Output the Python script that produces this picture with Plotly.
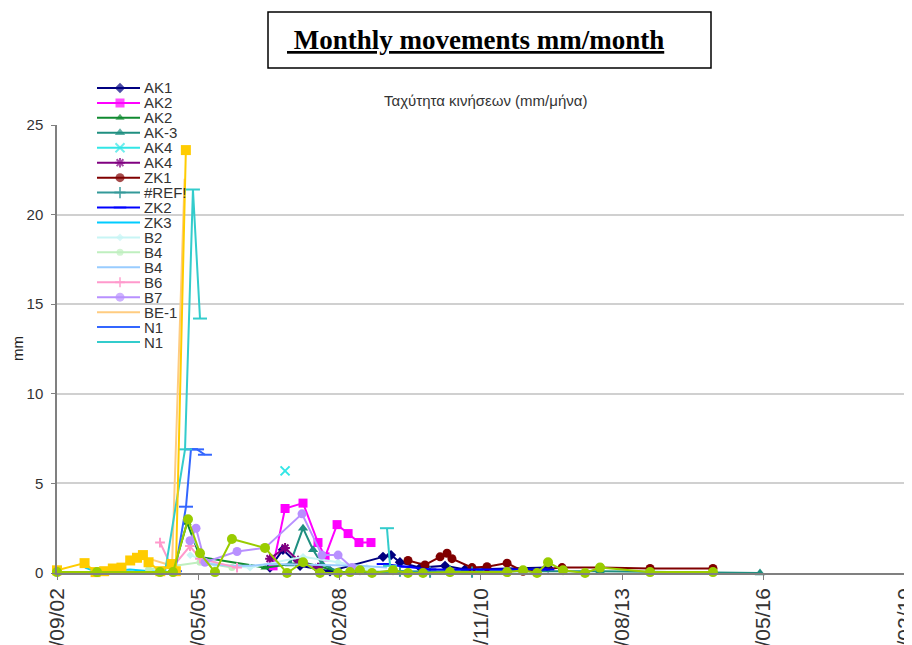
import plotly.graph_objects as go

# ---------------- data ----------------
X_RANGE = ['2002-09-01', '2019-02-05']
X_TICKS = ['2002-09-01', '2005-05-28', '2008-02-22', '2010-11-18',
           '2013-08-14', '2016-05-10', '2019-02-04']
Y_TICKS = [0, 5, 10, 15, 20, 25]

ak1_d = ['2006-10-17', '2007-01-17', '2007-05-18', '2007-12-16', '2008-12-25', '2009-02-20',
         '2009-04-24', '2009-09-14', '2010-03-09', '2010-07-28', '2012-03-07']
ak1_v = [0.3, 1.3, 0.4, 0.1, 0.9, 1.0, 0.6, 0.3, 0.4, 0.2, 0.3]

ak2_d = ['2006-11-08', '2007-02-01', '2007-06-08', '2007-09-22', '2007-11-11', '2008-02-04',
         '2008-04-22', '2008-07-08', '2008-10-01']
ak2_v = [0.4, 3.6, 3.9, 1.7, 0.9, 2.7, 2.2, 1.7, 1.7]

ak2b_d = ['2004-12-01', '2005-03-10', '2005-06-09', '2006-09-12', '2007-06-08', '2008-02-11']
ak2b_v = [0.1, 2.8, 0.9, 0.3, 0.6, 0.1]

ak3_d = ['2007-03-08', '2007-06-08', '2007-08-18', '2007-10-20', '2008-02-23', '2010-11-12',
         '2013-03-10', '2016-04-15']
ak3_v = [0.5, 2.5, 1.3, 0.5, 0.05, 0.1, 0.1, 0.0]

ak4_d = ['2007-02-01']
ak4_v = [5.7]

ak4b_d = ['2006-10-17', '2007-02-01', '2007-05-04', '2007-09-22']
ak4b_v = [0.8, 1.4, 0.7, 0.3]

zk1_d = ['2009-06-20', '2009-10-18', '2010-02-02', '2010-03-23', '2010-04-27', '2010-09-16',
         '2010-12-31', '2011-05-22', '2011-09-12', '2012-06-14', '2013-03-10', '2014-02-27',
         '2015-05-18']
zk1_v = [0.7, 0.45, 0.9, 1.1, 0.8, 0.3, 0.35, 0.55, 0.1, 0.3, 0.3, 0.25, 0.25]

ref_d = ['2009-04-24', '2009-11-23', '2010-04-13', '2010-09-16']
ref_v = [0.1, 0.05, 0.1, 0.05]

zk2_d = ['2008-12-25', '2009-06-13', '2009-11-23', '2012-03-07']
zk2_v = [0.5, 0.35, 0.2, 0.2]

zk3_d = ['2003-03-18', '2003-05-28', '2003-09-11', '2004-01-31', '2004-06-20', '2004-11-09']
zk3_v = [0.3, 0.1, 0.1, 0.2, 0.1, 0.05]

b2_d = ['2005-04-01', '2005-09-23', '2006-05-29', '2007-06-08', '2008-02-11', '2008-09-01']
b2_v = [1.0, 0.5, 0.3, 0.9, 0.6, 0.3]

b4_d = ['2004-06-10', '2004-12-01', '2005-06-09', '2006-01-21']
b4_v = [0.2, 0.4, 0.6, 0.3]

b4b_d = ['2005-04-15', '2005-07-29', '2006-01-07', '2006-05-29', '2006-10-17', '2008-07-15',
         '2009-01-22']
b4b_v = [2.0, 0.5, 0.4, 0.4, 0.5, 0.4, 0.3]

b6_d = ['2004-08-30', '2004-11-23', '2005-03-30', '2005-06-09', '2006-02-26']
b6_v = [1.7, 0.3, 1.5, 0.8, 0.3]

b7_d = ['2005-03-30', '2005-05-12', '2005-07-14', '2006-02-26', '2006-09-12', '2007-06-01',
        '2007-10-20', '2008-02-11', '2008-05-20']
b7_v = [1.8, 2.5, 0.6, 1.2, 1.4, 3.3, 1.0, 1.0, 0.3]

be1_d = ['2004-06-10', '2004-11-23', '2005-02-20']
be1_v = [0.8, 0.4, 22.0]

n1_d = ['2004-12-14', '2005-03-02', '2005-04-06', '2005-05-19', '2005-07-14']
n1_v = [0.1, 3.7, 6.9, 6.9, 6.6]

n1b_d = ['2004-10-04', '2005-02-23', '2005-04-20', '2005-06-09', '2007-01-01',
         '2009-01-22', '2009-02-13']
n1b_v = [0.05, 6.9, 21.4, 14.2, None, 2.5, 0.4]

gold_d = ['2002-09-01', '2003-03-15', '2003-06-01', '2003-08-01', '2003-10-01', '2003-12-01',
          '2004-02-01', '2004-03-20', '2004-05-01', '2004-06-10', '2004-09-01', '2004-11-20',
          '2004-12-20', '2005-03-01']
gold_v = [0.15, 0.55, 0.05, 0.1, 0.25, 0.3, 0.7, 0.85, 1.0, 0.6, 0.1, 0.5, 0.1, 23.6]

lime_d = ['2002-09-01', '2003-06-11', '2004-08-30', '2004-11-30', '2005-03-16', '2005-06-09',
          '2005-09-23', '2006-01-21', '2006-09-12', '2007-02-15', '2007-06-08', '2007-10-06',
          '2008-02-11', '2008-05-06', '2008-07-15', '2008-10-08', '2009-03-06', '2009-06-20',
          '2009-10-04', '2010-04-13', '2011-05-22', '2011-09-12', '2011-12-20', '2012-03-07',
          '2012-06-21', '2012-11-24', '2013-03-10', '2014-02-27', '2015-05-18']
lime_v = [0.05, 0.05, 0.05, 0.05, 3.0, 1.1, 0.05, 1.9, 1.4, 0.0, 0.6, 0.0, 0.0, 0.05, 0.15,
          0.0, 0.15, 0.0, 0.0, 0.05, 0.05, 0.15, 0.0, 0.6, 0.15, 0.0, 0.3, 0.05, 0.05]

legend_names = ['AK1', 'AK2', 'AK2', 'AK-3', 'AK4', 'AK4', 'ZK1', '#REF!', 'ZK2', 'ZK3',
                'B2', 'B4', 'B4', 'B6', 'B7', 'BE-1', 'N1', 'N1']

# ---------------- styles ----------------
legend_series = [
    (ak1_d, ak1_v, '#000080', 'diamond', 8),
    (ak2_d, ak2_v, '#FF00FF', 'square', 9),
    (ak2b_d, ak2b_v, '#108a30', 'triangle-up', 8),
    (ak3_d, ak3_v, '#1f8f80', 'triangle-up', 9),
    (ak4_d, ak4_v, '#33E6E6', 'x-thin-open', 9),
    (ak4b_d, ak4b_v, '#800080', 'asterisk-open', 8),
    (zk1_d, zk1_v, '#800000', 'circle', 9),
    (ref_d, ref_v, '#339999', 'cross-thin-open', 8),
    (zk2_d, zk2_v, '#0000FF', 'line-ew-open', 9),
    (zk3_d, zk3_v, '#00CCFF', None, 0),
    (b2_d, b2_v, '#C8F5F5', 'diamond', 6),
    (b4_d, b4_v, '#BFEFBF', 'circle', 7),
    (b4b_d, b4b_v, '#99CCFF', None, 0),
    (b6_d, b6_v, '#FF99CC', 'cross-thin-open', 7),
    (b7_d, b7_v, '#B890FF', 'circle', 9),
    (be1_d, be1_v, '#FFCC80', None, 0),
    (n1_d, n1_v, '#3366FF', 'line-ew-open', 10),
    (n1b_d, n1b_v, '#33CCCC', 'line-ew-open', 10),
]

fig = go.Figure()


def add_series(d, v, color, symbol, size, lw=2):
    if symbol is None:
        fig.add_trace(go.Scatter(x=d, y=v, mode='lines', line=dict(color=color, width=lw),
                                 cliponaxis=False, hoverinfo='skip'))
    else:
        openm = symbol.endswith('open')
        fig.add_trace(go.Scatter(
            x=d, y=v, mode='lines+markers', line=dict(color=color, width=lw),
            marker=dict(symbol=symbol, size=size, color=color,
                        line=dict(color=color, width=2 if openm else 0)),
            cliponaxis=False, hoverinfo='skip'))


for d, v, c, s, z in legend_series:
    add_series(d, v, c, s, z)

# unlabeled series (beyond legend)
add_series(gold_d, gold_v, '#FFCC00', 'square', 10)
add_series(lime_d, lime_v, '#99CC00', 'circle', 10)

# ---------------- page geometry (window px -> paper) ----------------
PW, PH = 848, 565


def px(wx):
    return (wx - 57) / PW


def py(wy):
    return (573 - wy) / PH


# ---------------- legend (drawn on helper axes) ----------------
annotations = []
for i, (name, (d, v, c, s, z)) in enumerate(zip(legend_names, legend_series)):
    if s is None:
        fig.add_trace(go.Scatter(x=[1, 44], y=[i, i], mode='lines',
                                 line=dict(color=c, width=2), xaxis='x2', yaxis='y2',
                                 hoverinfo='skip'))
    else:
        openm = s.endswith('open')
        fig.add_trace(go.Scatter(x=[1, 24, 44], y=[i, i, i], mode='lines+markers',
                                 line=dict(color=c, width=2),
                                 marker=dict(symbol=s, size=[0, z, 0], color=c,
                                             line=dict(color=c, width=2 if openm else 0)),
                                 xaxis='x2', yaxis='y2', hoverinfo='skip'))
    annotations.append(dict(x=46, y=i, xref='x2', yref='y2', text=name, showarrow=False,
                            xanchor='left', yanchor='middle',
                            font=dict(family='Liberation Sans', size=15, color='#333333')))

annotations += [
    dict(text='<b><u> Monthly movements mm/month</u></b>', x=px(475), y=py(40),
         xref='paper', yref='paper', showarrow=False, xanchor='center', yanchor='middle',
         font=dict(family='Liberation Serif', size=27, color='black')),
    dict(text='Ταχύτητα κινήσεων (mm/μήνα)', x=px(485), y=py(100),
         xref='paper', yref='paper', showarrow=False, xanchor='center', yanchor='middle',
         font=dict(family='Liberation Sans', size=15, color='#333333')),
    dict(text='mm', x=px(17), y=py(349), xref='paper', yref='paper',
         showarrow=False, textangle=-90, xanchor='center', yanchor='middle',
         font=dict(family='Liberation Sans', size=15, color='#222222')),
]

fig.update_layout(
    width=904, height=637,
    margin=dict(l=49, r=7, t=0, b=72, autoexpand=False),
    paper_bgcolor='white', plot_bgcolor='rgba(0,0,0,0)',
    showlegend=False,
    font=dict(family='Liberation Sans', color='#222222'),
    xaxis=dict(type='date', range=X_RANGE, tickvals=X_TICKS, tickformat='%d/%m/%y',
               tickangle=-90, ticks='outside', ticklen=5, tickcolor='#808080',
               showline=True, linecolor='#808080', linewidth=1.5, showgrid=False,
               zeroline=False, automargin=False, anchor='y', ticklabeloverflow='allow',
               tickfont=dict(family='Liberation Sans', size=21, color='#333333')),
    yaxis=dict(range=[0, 25], tickvals=Y_TICKS, domain=[0, 448 / PH], showgrid=True,
               gridcolor='#d0d0d0', gridwidth=1.5, showline=True, linecolor='#808080',
               linewidth=1.5, ticks='outside', ticklen=4, tickcolor='#808080',
               zeroline=False, automargin=False, anchor='x', ticklabelstandoff=5,
               tickfont=dict(family='Liberation Sans', size=15, color='#333333')),
    xaxis2=dict(domain=[px(96), px(205)], range=[0, 109], visible=False,
                anchor='y2', fixedrange=True),
    yaxis2=dict(domain=[py(349.5), py(80.5)], range=[17.5, -0.5],
                visible=False, anchor='x2', fixedrange=True),
    annotations=annotations,
    shapes=[dict(type='rect', xref='paper', yref='paper',
                 x0=px(268), x1=px(711), y0=py(68), y1=py(12),
                 line=dict(color='black', width=1.5), fillcolor='rgba(0,0,0,0)')],
)

fig.write_html('out.html')
